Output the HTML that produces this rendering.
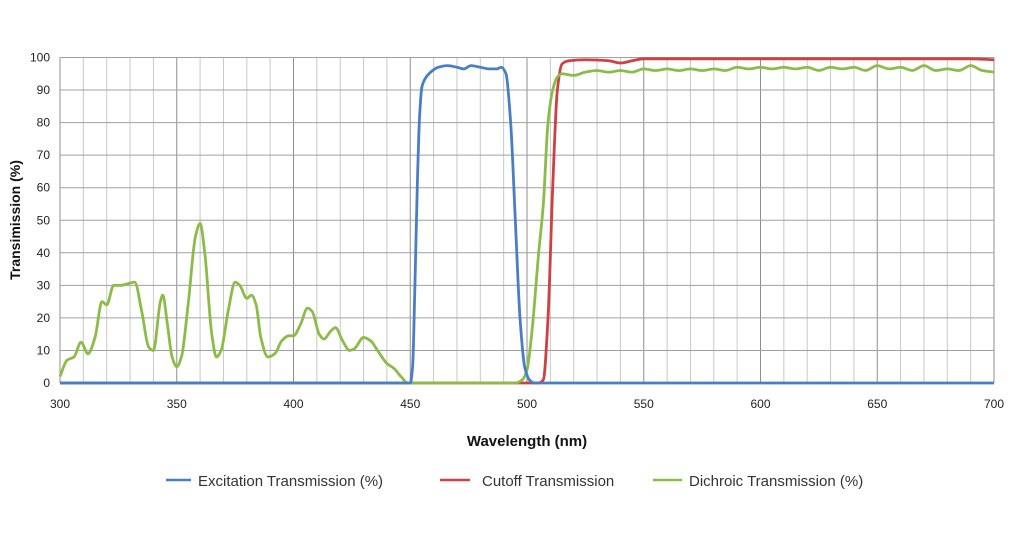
<!DOCTYPE html>
<html><head><meta charset="utf-8"><style>
body{margin:0;background:#fff;width:1024px;height:536px;overflow:hidden}
svg{font-family:"Liberation Sans",sans-serif}
</style></head><body>
<svg id="chart" width="1024" height="536">
<g id="grid"></g><g id="ticks"></g><g id="series"></g>
<text x="527" y="446" text-anchor="middle" font-size="15" font-weight="bold" fill="#111">Wavelength (nm)</text>
<text transform="translate(20,220) rotate(-90)" text-anchor="middle" font-size="14" font-weight="bold" fill="#111">Transimission (%)</text>
<g font-size="15" fill="#333">
<g><line x1="166" y1="480" x2="191" y2="480" stroke="#4a7ec4" stroke-width="2.5"/><text x="198" y="486">Excitation Transmission (%)</text></g>
<g><line x1="440" y1="480" x2="470" y2="480" stroke="#cf4040" stroke-width="2.5"/><text x="482" y="486">Cutoff Transmission</text></g>
<g><line x1="653" y1="480" x2="682" y2="480" stroke="#8dbb4a" stroke-width="2.5"/><text x="689" y="486">Dichroic Transmission (%)</text></g>
</g>
</svg>
<script>
const xTicks=[300,350,400,450,500,550,600,650,700];
const yTicks=[0,10,20,30,40,50,60,70,80,90,100];
const greenX=[300,303,306,309,312,315,318,320,323,326,329,332,335,338,340,343,344,346,348,350,352,355,358,360,362,365,367,369,372,375,377,380,382,384,386,389,392,395,398,400,403,406,408,411,413,416,418,421,424,426,430,433,436,440,443,446,449,495,498,500,502,505,507,509,511,513,515,520,525,530,535,540,545,550,555,560,565,570,575,580,585,590,595,600,605,610,615,620,625,630,635,640,645,650,655,660,665,670,675,680,685,690,695,700];
const greenY=[2,7,8,12.5,9,14,25,24,30,30,30.5,31,22,11,10,25,27,18,8,5,8,25,45,49,40,15,8,10,22,31,30,26,27,24,14,8,9,13,14.5,14.5,18,23,22,15,13.5,16,17,13,10,10.5,14,13,10,6,4.5,2,0,0,1,4,15,40,55,80,90,94,95,94.5,95.5,96,95.5,96,95.5,96.5,96,96.5,96,96.5,96,96.5,96,97,96.5,97,96.5,97,96.5,97,96,97,96.5,97,96,97.5,96.5,97,96,97.5,96,96.5,96,97.5,96,95.5];
const blueX=[300,448,450,451,452,453,454,455,456,458,462,466,470,473,476,480,484,487,489,491,493,495,497,499,501,503,700];
const blueY=[0,0,0,5,30,60,82,91,93,95,97,97.5,97,96.5,97.5,97,96.5,96.5,97,95,80,50,20,5,1,0,0];
const redX=[300,505,507,509,511,513,515,518,525,535,540,545,550,600,650,690,700];
const redY=[0,0,1,20,60,90,98,99,99.3,99,98.3,99,99.6,99.6,99.6,99.6,99.3];
const sx=v=>60+(v-300)*(934/400);
const sy=v=>383-v*3.255;
const NS="http://www.w3.org/2000/svg";
function mk(t,a,p){const e=document.createElementNS(NS,t);for(const k in a)e.setAttribute(k,a[k]);p.appendChild(e);return e;}
const grid=document.getElementById('grid'),ticks=document.getElementById('ticks'),ser=document.getElementById('series');
for(let v=300;v<=700;v+=10){const l=mk('line',{x1:sx(v),x2:sx(v),y1:sy(100),y2:sy(0),stroke:v%50?'#c8c8c8':'#8f8f8f','stroke-width':1},grid);

}
yTicks.forEach(v=>{const l=mk('line',{x1:sx(300),x2:sx(700),y1:sy(v),y2:sy(v),stroke:'#a0a0a0','stroke-width':1},grid);


const t=mk('text',{x:50,y:sy(v)+4,'text-anchor':'end','font-size':12,fill:'#222'},ticks);t.textContent=v;

});
xTicks.forEach(v=>{const t=mk('text',{x:sx(v),y:408,'text-anchor':'middle','font-size':12,fill:'#222'},ticks);t.textContent=v;

});
function path(xs,ys){
  const X=xs.map(sx),Y=ys.map(sy),n=X.length;
  const d=[],m=new Array(n);
  for(let i=0;i<n-1;i++)d.push((Y[i+1]-Y[i])/(X[i+1]-X[i]));
  m[0]=d[0];m[n-1]=d[n-2];
  for(let i=1;i<n-1;i++){ if(d[i-1]*d[i]<=0)m[i]=0; else{const w1=2*(X[i+1]-X[i])+(X[i]-X[i-1]),w2=(X[i+1]-X[i])+2*(X[i]-X[i-1]);m[i]=(w1+w2)/(w1/d[i-1]+w2/d[i]);} }
  let s='M'+X[0]+','+Y[0];
  for(let i=0;i<n-1;i++){const h=(X[i+1]-X[i])/3;
    s+=` C${X[i]+h},${Y[i]+m[i]*h} ${X[i+1]-h},${Y[i+1]-m[i+1]*h} ${X[i+1]},${Y[i+1]}`;}
  return s;}
const r=mk('path',{d:path(redX,redY),fill:'none',stroke:'#cf4040','stroke-width':2.8,'stroke-linejoin':'round'},ser);


const g=mk('path',{d:path(greenX,greenY),fill:'none',stroke:'#8dbb4a','stroke-width':2.8,'stroke-linejoin':'round'},ser);


const b=mk('path',{d:path(blueX,blueY),fill:'none',stroke:'#4a7ec4','stroke-width':2.8,'stroke-linejoin':'round'},ser);


</script>
</body></html>
